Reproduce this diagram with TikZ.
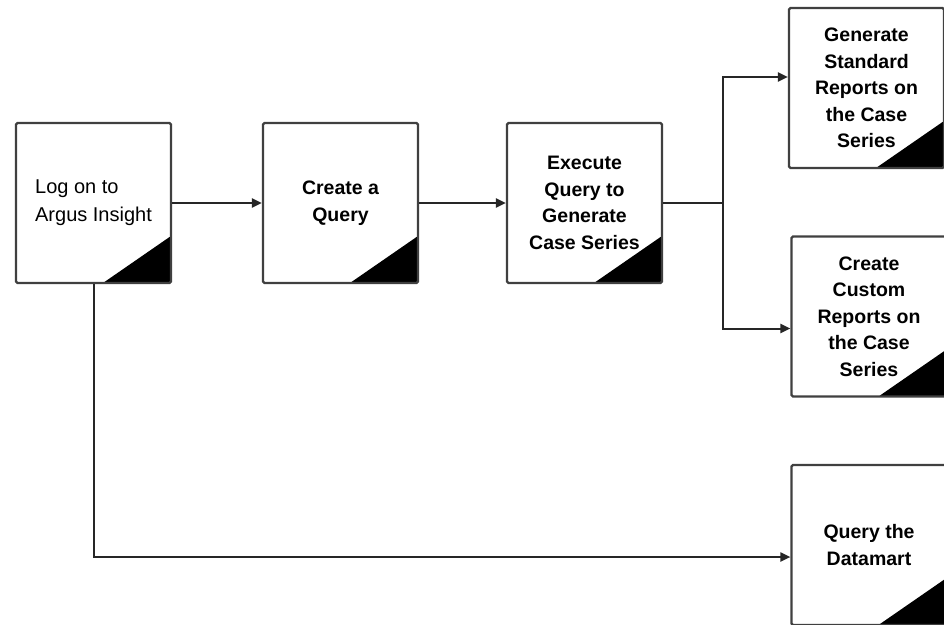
\documentclass[tikz,border=0pt]{standalone}
\usepackage{fontspec}
\setmainfont{Liberation Sans}
\usetikzlibrary{arrows.meta, positioning, calc}
\definecolor{boxgray}{rgb}{0.25,0.25,0.25}

\begin{document}
\begin{tikzpicture}[x=1pt, y=-1pt]
    \tikzstyle{task} = [rectangle, draw=boxgray, line width=2.2pt, rounded corners=1.5pt, minimum width=155pt, minimum height=160pt, inner sep=0pt, align=center, font=\fontsize{19.5}{26.5}\selectfont\bfseries, path picture={\fill[black] (path picture bounding box.south east) -- ++(-68pt,0pt) -- ++(68pt,47pt) -- cycle;}]
    \tikzstyle{flow} = [draw=black!85, line width=2pt, -{Triangle[length=10pt,width=9pt]}]

    \useasboundingbox (0,0) rectangle (944,624);

    \node[task, align=left, font=\fontsize{20}{28}\selectfont] (logon) at (93.5,203) {Log on to\\Argus Insight};
    \node[task] (query) at (340.5,203) {Create a\\Query};
    \node[task] (execute) at (584.5,203) {Execute\\Query to\\Generate\\Case Series};
    \node[task] (standard) at (866.5,88) {Generate\\Standard\\Reports on\\the Case\\Series};
    \node[task] (custom) at (869,316.5) {Create\\Custom\\Reports on\\the Case\\Series};
    \node[task] (datamart) at (869,545) {Query the\\Datamart};

    \coordinate (fork) at ($(execute.east)+(60,0)$);

    \draw[flow] (logon.east) -- (query.west);
    \draw[flow] (query.east) -- (execute.west);
    \draw[flow] (execute.east) -- (fork) |- ([yshift=11pt]standard.west);
    \draw[flow] (fork) |- ([yshift=-12pt]custom.west);
    \draw[flow] (logon.south) |- ([yshift=-12pt]datamart.west);
\end{tikzpicture}
\end{document}
